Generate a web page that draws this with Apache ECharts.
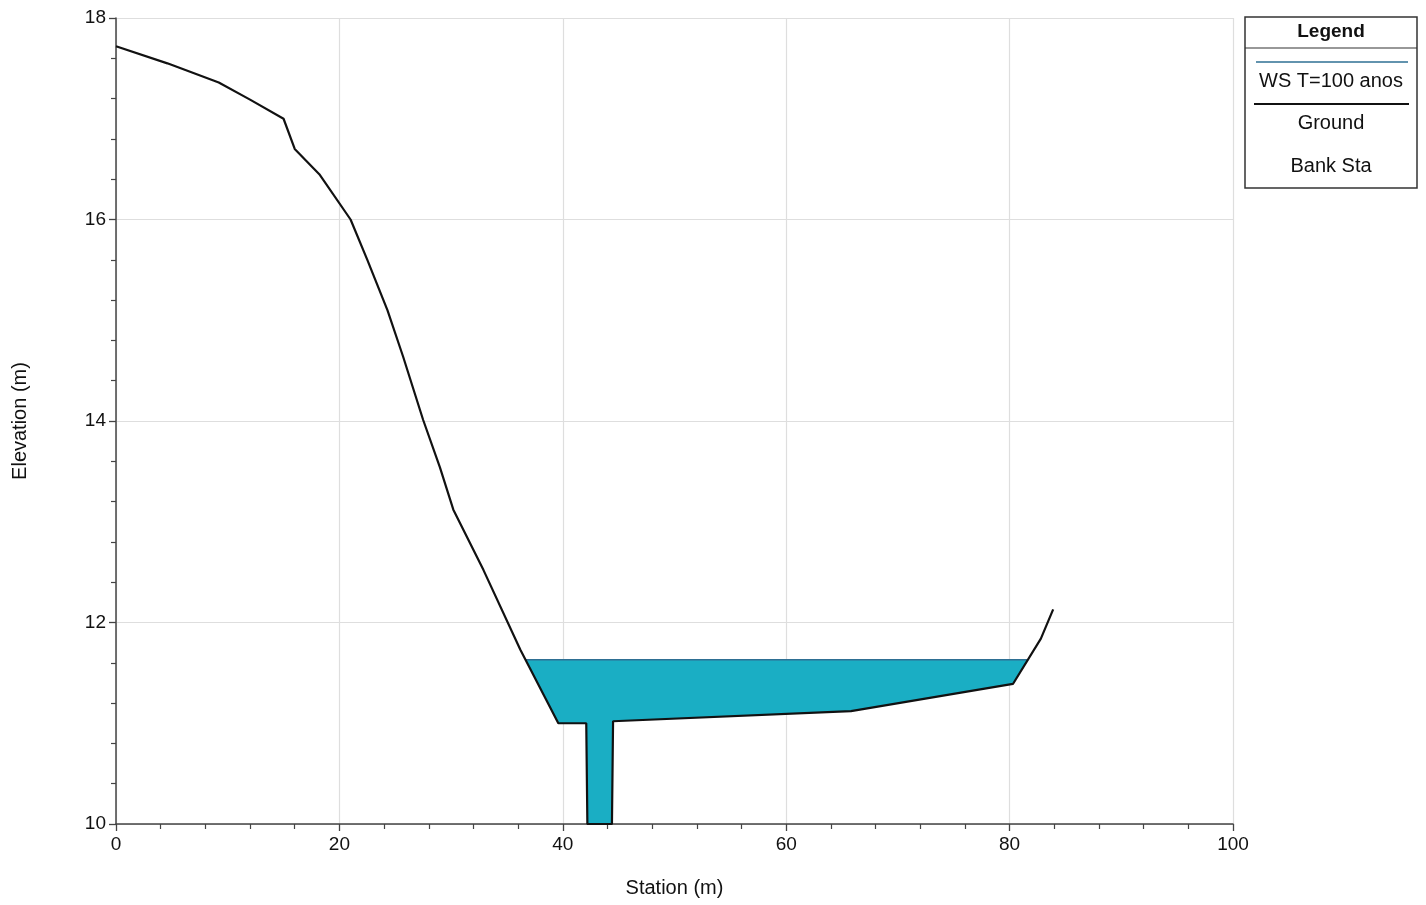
<!DOCTYPE html>
<html>
<head>
<meta charset="utf-8">
<script src="https://cdn.jsdelivr.net/npm/echarts@6/dist/echarts.min.js"></script>
<style>
html,body{margin:0;padding:0;background:#fff;}
#chart{width:1426px;height:905px;}
</style>
</head>
<body>
<div id="chart"></div>
<script>
// ---- Data ----
var stations   = [0, 4.6, 9.2, 12.0, 15, 16, 18.2, 21, 22.5, 24.3, 25.7, 27.5, 29.0, 30.2, 32.9, 36.2, 39.6, 42.1, 42.2, 44.4, 44.5, 65.8, 80.3, 82.8, 83.9];
var elevations = [17.72, 17.55, 17.36, 17.19, 17.0, 16.70, 16.45, 16.0, 15.60, 15.10, 14.64, 14.01, 13.54, 13.12, 12.52, 11.73, 11.0, 11.0, 10.0, 10.0, 11.02, 11.12, 11.39, 11.84, 12.13];
var wsLevel = 11.63;               // WS T=100 anos
var xTicks = [0, 20, 40, 60, 80, 100];
var yTicks = [10, 12, 14, 16, 18];
var legendItems = ['WS T=100 anos', 'Ground', 'Bank Sta'];

var groundData = stations.map(function (s, i) { return [s, elevations[i]]; });

// Clip the ground polyline to the part below the water surface -> water polygon
function waterPolygon() {
  var pts = [];
  for (var i = 0; i < groundData.length - 1; i++) {
    var a = groundData[i], b = groundData[i + 1];
    var aIn = a[1] <= wsLevel, bIn = b[1] <= wsLevel;
    if (aIn) pts.push(a);
    if (aIn !== bIn) {
      var t = (wsLevel - a[1]) / (b[1] - a[1]);
      pts.push([a[0] + t * (b[0] - a[0]), wsLevel]);
    }
  }
  var last = groundData[groundData.length - 1];
  if (last[1] <= wsLevel) pts.push(last);
  return pts;
}
var poly = waterPolygon();
var wsLine = [[poly[0][0], wsLevel], [poly[poly.length - 1][0], wsLevel]];

var FONT = '"Liberation Sans", Arial, sans-serif';
var chart = echarts.init(document.getElementById('chart'), null, {renderer: 'canvas'});

var lx = 1245, ly = 17, lw = 172, lh = 171, cx = lx + lw / 2;

chart.setOption({
  animation: false,
  backgroundColor: '#ffffff',
  grid: {left: 116, right: 193, top: 18, bottom: 81, containLabel: false},
  xAxis: {
    type: 'value', min: xTicks[0], max: xTicks[xTicks.length - 1], interval: 20,
    name: 'Station (m)', nameLocation: 'middle', nameGap: 54,
    nameTextStyle: {fontFamily: FONT, fontSize: 20, color: '#111'},
    axisLine: {show: true, onZero: false, lineStyle: {color: '#444', width: 1.5}},
    axisTick: {show: true, inside: false, length: 7, lineStyle: {color: '#444', width: 1.3}},
    minorTick: {show: true, splitNumber: 5, length: 5, lineStyle: {color: '#444', width: 1.2}},
    axisLabel: {fontFamily: FONT, fontSize: 19, color: '#111', margin: 11},
    splitLine: {show: true, lineStyle: {color: '#dedede', width: 1.2}}
  },
  yAxis: {
    type: 'value', min: yTicks[0], max: yTicks[yTicks.length - 1], interval: 2,
    name: 'Elevation (m)', nameLocation: 'middle', nameGap: 86,
    nameTextStyle: {fontFamily: FONT, fontSize: 20, color: '#111'},
    axisLine: {show: true, onZero: false, lineStyle: {color: '#444', width: 1.5}},
    axisTick: {show: true, inside: false, length: 7, lineStyle: {color: '#444', width: 1.3}},
    minorTick: {show: true, splitNumber: 5, length: 5, lineStyle: {color: '#444', width: 1.2}},
    axisLabel: {fontFamily: FONT, fontSize: 19, color: '#111', margin: 10},
    splitLine: {show: true, lineStyle: {color: '#dedede', width: 1.2}}
  },
  series: [
    {
      type: 'custom', name: 'water', z: 2,
      coordinateSystem: 'cartesian2d',
      data: [[poly[0][0], wsLevel]],
      renderItem: function (params, api) {
        var p = poly.map(function (q) { return api.coord(q); });
        return {type: 'polygon', shape: {points: p}, style: {fill: '#1aaec4', stroke: null}};
      },
      silent: true
    },
    {
      type: 'line', name: 'WS T=100 anos', z: 3, data: wsLine,
      showSymbol: false, symbol: 'none',
      lineStyle: {color: '#2e6f93', width: 1.5}, silent: true
    },
    {
      type: 'line', name: 'Ground', z: 4, data: groundData,
      showSymbol: false, symbol: 'none',
      lineStyle: {color: '#111', width: 2.2}, silent: true
    }
  ],
  graphic: [
    {type: 'rect', shape: {x: lx, y: ly, width: lw, height: lh}, style: {fill: '#fff', stroke: '#333', lineWidth: 1.5}, z: 10},
    {type: 'text', x: cx, y: 32, style: {text: 'Legend', fontFamily: FONT, fontSize: 19, fontWeight: 'bold', fill: '#111', align: 'center', verticalAlign: 'middle'}, z: 11},
    {type: 'line', shape: {x1: lx, y1: 48, x2: lx + lw, y2: 48}, style: {stroke: '#333', lineWidth: 1.2}, z: 11},
    {type: 'line', shape: {x1: 1256, y1: 62, x2: 1408, y2: 62}, style: {stroke: '#2e6f93', lineWidth: 1.5}, z: 11},
    {type: 'text', x: cx, y: 81, style: {text: legendItems[0], fontFamily: FONT, fontSize: 20, fill: '#111', align: 'center', verticalAlign: 'middle'}, z: 11},
    {type: 'line', shape: {x1: 1254, y1: 104, x2: 1409, y2: 104}, style: {stroke: '#111', lineWidth: 2.2}, z: 11},
    {type: 'text', x: cx, y: 123, style: {text: legendItems[1], fontFamily: FONT, fontSize: 20, fill: '#111', align: 'center', verticalAlign: 'middle'}, z: 11},
    {type: 'text', x: cx, y: 166, style: {text: legendItems[2], fontFamily: FONT, fontSize: 20, fill: '#111', align: 'center', verticalAlign: 'middle'}, z: 11}
  ]
});
</script>
</body>
</html>
